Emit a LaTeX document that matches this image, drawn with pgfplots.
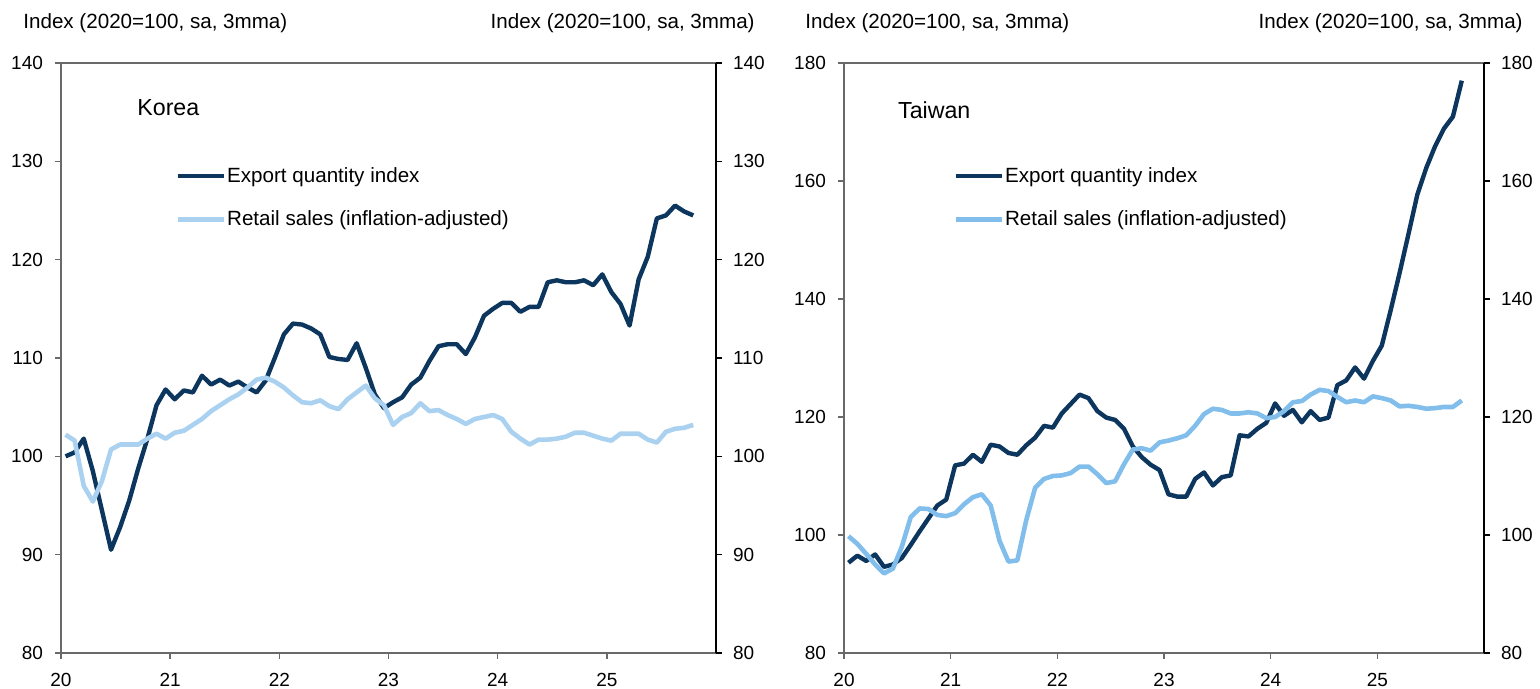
\documentclass[border=0pt]{standalone}
\usepackage{fontspec}
\setmainfont{Liberation Sans}
\usepackage{pgfplots}
\pgfplotsset{compat=1.18}
\usepackage{pgfplotstable}

\definecolor{navy}{RGB}{12,54,94}
\definecolor{lightK}{RGB}{170,210,240}
\definecolor{lightT}{RGB}{130,190,235}
\definecolor{framegray}{RGB}{105,105,105}

\newcommand\tickfont{\fontsize{9.5pt}{11pt}\selectfont}
\newcommand\titlefont{\fontsize{10.3pt}{12pt}\selectfont}
\newcommand\legfont{\fontsize{10.3pt}{12pt}\selectfont}
\newcommand\panelfont{\fontsize{11.6pt}{13pt}\selectfont}

% Korea: export quantity index, retail sales (monthly, Jan 2020 - Oct 2025)
\pgfplotstableread{
exp ret
100.0 102.2
100.4 101.6
101.8 97.0
98.5 95.4
94.5 97.5
90.5 100.7
92.8 101.2
95.5 101.2
98.8 101.2
101.8 101.8
105.2 102.3
106.8 101.8
105.8 102.4
106.7 102.6
106.5 103.2
108.2 103.8
107.3 104.6
107.8 105.2
107.2 105.8
107.6 106.3
107.0 107.0
106.5 107.8
107.7 108.0
110.0 107.6
112.4 107.0
113.5 106.2
113.4 105.5
113.0 105.4
112.4 105.7
110.1 105.1
109.9 104.8
109.8 105.8
111.5 106.5
109.0 107.2
106.3 105.9
104.9 105.2
105.5 103.2
106.0 104.0
107.3 104.4
108.0 105.4
109.7 104.6
111.2 104.7
111.4 104.2
111.4 103.8
110.4 103.3
112.1 103.8
114.3 104.0
115.0 104.2
115.6 103.8
115.6 102.5
114.7 101.8
115.2 101.2
115.2 101.7
117.7 101.7
117.9 101.8
117.7 102.0
117.7 102.4
117.9 102.4
117.4 102.1
118.5 101.8
116.7 101.6
115.5 102.3
113.3 102.3
118.0 102.3
120.3 101.7
124.2 101.4
124.5 102.5
125.5 102.8
124.9 102.9
124.5 103.2
}\korea

% Taiwan
\pgfplotstableread{
exp ret
95.3 99.8
96.5 98.5
95.6 96.8
96.7 95.0
94.6 93.5
95.0 94.3
96.1 98.0
98.3 103.0
100.6 104.5
102.8 104.4
105.0 103.4
106.0 103.2
111.8 103.7
112.1 105.2
113.6 106.4
112.4 106.9
115.3 105.0
115.0 99.0
113.9 95.5
113.6 95.7
115.2 102.5
116.5 108.0
118.5 109.5
118.2 110.0
120.6 110.1
122.2 110.5
123.8 111.6
123.2 111.6
121.0 110.3
119.9 108.8
119.5 109.1
118.0 112.0
115.0 114.5
113.2 114.7
111.9 114.3
111.0 115.7
106.9 116.0
106.5 116.4
106.5 116.9
109.5 118.5
110.6 120.5
108.4 121.4
109.8 121.2
110.1 120.6
116.9 120.6
116.7 120.8
118.0 120.6
119.0 119.8
122.3 120.0
120.2 121.0
121.2 122.5
119.1 122.7
121.0 123.8
119.5 124.6
119.9 124.4
125.4 123.4
126.2 122.5
128.4 122.8
126.5 122.5
129.5 123.5
132.1 123.2
138.1 122.8
144.4 121.8
151.0 121.9
157.7 121.7
162.2 121.4
165.9 121.5
168.9 121.7
170.9 121.7
177.0 122.8
}\taiwan

\pgfplotsset{
  panel/.style={
    scale only axis,
    height=295pt,
    xmin=0, xmax=72,
    xtick={0,12,24,36,48,60},
    xticklabels={20,21,22,23,24,25},
    tick align=outside,
    xtick pos=bottom,
    ytick pos=left,
    major tick length=3pt,
    axis line style={draw=framegray, line width=0.8pt},
    every tick/.style={draw=framegray, line width=0.8pt},
    tick label style={font=\tickfont, text=black},
    yticklabel style={xshift=-2.5pt},
    xticklabel style={yshift=-3.5pt},
    /pgf/number format/assume math mode=true,
    legend cell align=left,
    legend image code/.code={\draw[##1] (0pt,0pt) -- (23pt,0pt);},
    legend style={draw=none, fill=none, inner sep=0pt, font=\legfont,
      row sep=11.5pt, nodes={inner sep=0.6pt}},
  },
  rightpanel/.style={
    scale only axis,
    height=295pt,
    xmin=0, xmax=72,
    axis x line=none,
    axis y line*=right,
    tick align=outside,
    major tick length=3pt,
    axis line style={draw=black, line width=0.8pt},
    every tick/.style={draw=black, line width=0.8pt},
    tick label style={font=\tickfont, text=black},
    yticklabel style={xshift=2pt},
    /pgf/number format/assume math mode=true,
  },
  expline/.style={navy, line width=2.2pt, line join=round},
  retK/.style={lightK, line width=2.3pt, line join=round},
  retT/.style={lightT, line width=2.3pt, line join=round},
}

\begin{document}
\begin{tikzpicture}
\useasboundingbox (0,0) rectangle (770pt,344.5pt);

% ---------------- Korea ----------------
\begin{axis}[panel, at={(30.5pt,18pt)}, anchor=south west, width=327.5pt,
  ymin=80, ymax=140, ytick={80,90,...,140},
  legend style={at={(0.174,0.826)}, anchor=north west}]
  \addplot[expline] table[x expr=\coordindex+0.5, y=exp] {\korea};
  \addlegendentry{Export quantity index}
  \addplot[retK] table[x expr=\coordindex+0.5, y=ret] {\korea};
  \addlegendentry{Retail sales (inflation-adjusted)}
  \node[anchor=west, font=\panelfont, inner sep=0pt] at (rel axis cs:0.116,0.924) {Korea};
\end{axis}
\begin{axis}[rightpanel, at={(30.5pt,18pt)}, anchor=south west, width=327.5pt,
  ymin=80, ymax=140, ytick={80,90,...,140}]
\end{axis}

% ---------------- Taiwan ----------------
\begin{axis}[panel, at={(422pt,18pt)}, anchor=south west, width=320pt,
  ymin=80, ymax=180, ytick={80,100,...,180},
  legend style={at={(0.170,0.826)}, anchor=north west}]
  \addplot[expline] table[x expr=\coordindex+0.5, y=exp] {\taiwan};
  \addlegendentry{Export quantity index}
  \addplot[retT] table[x expr=\coordindex+0.5, y=ret] {\taiwan};
  \addlegendentry{Retail sales (inflation-adjusted)}
  \node[anchor=west, font=\panelfont, inner sep=0pt] at (rel axis cs:0.084,0.920) {Taiwan};
\end{axis}
\begin{axis}[rightpanel, at={(422pt,18pt)}, anchor=south west, width=320pt,
  ymin=80, ymax=180, ytick={80,100,...,180}]
\end{axis}

% ---------------- unit labels ----------------
\node[anchor=west, font=\titlefont, inner sep=0pt] at (11.5pt,333pt) {Index (2020=100, sa, 3mma)};
\node[anchor=east, font=\titlefont, inner sep=0pt] at (377.5pt,333pt) {Index (2020=100, sa, 3mma)};
\node[anchor=west, font=\titlefont, inner sep=0pt] at (402.5pt,333pt) {Index (2020=100, sa, 3mma)};
\node[anchor=east, font=\titlefont, inner sep=0pt] at (761.5pt,333pt) {Index (2020=100, sa, 3mma)};
\end{tikzpicture}
\end{document}
